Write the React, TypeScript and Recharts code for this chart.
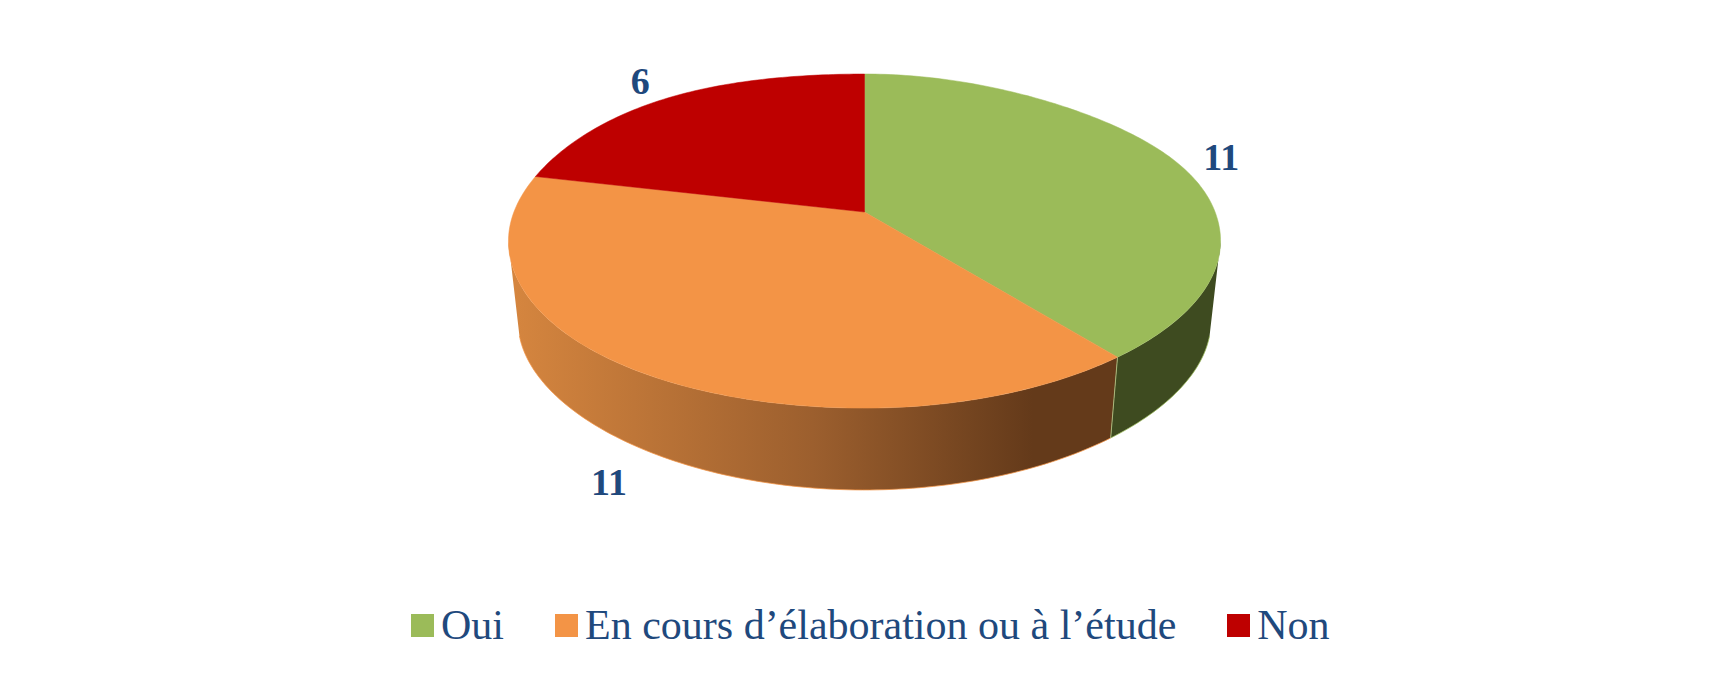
import { PieChart, Pie, Cell, Legend } from "recharts"

const categories = ["Oui", "En cours d’élaboration ou à l’étude", "Non"]
const counts = [11, 11, 6]
const topColors = ["#9BBB59", "#F39446", "#BE0000"]
const wallFills = ["#3E4B20", "url(#orangeWall)", "#6B0000"]

// label placement, one entry per slice
const labelReach = [1.14, 1.2, 1.165]
const labelShift = [1, -2.5, 3]

const SERIF = "'Liberation Serif', serif"
const INK = "#1F497D"
const WIDTH = 1731
const HEIGHT = 678
const CX = 864.5
const VY = 212
const RX = 350.6

// flattened disc with perspective: far edge is squeezed, near edge stretched
const TILT = 0.174
const RY_RATIO = 162 / RX
const rad = (a: number) => (a * Math.PI) / 180

function topPoint(a: number, r: number = RX, scale = 1) {
  const s = Math.sin(rad(a))
  const d = 1 + TILT * s
  const twice = Math.sin(rad(2 * a))
  // the original outline leans slightly to the left, away from a true ellipse
  const lean = twice * Math.abs(twice) * (s > 0 ? 4 : 1.5)
  return {
    x: CX + (scale * r * Math.cos(rad(a))) / d,
    y: VY - (scale * r * RY_RATIO * s) / d + lean,
  }
}

// lower rim of the disc, a bit narrower and further down
function bottomPoint(a: number, r: number = RX, scale = 1) {
  const s = Math.sin(rad(a))
  const d = 1 + TILT * s
  return {
    x: CX + (scale * r * 0.973 * Math.cos(rad(a))) / d,
    y: 294.5 - (scale * r * 0.4293 * s) / (1 + 0.23 * s),
  }
}

function sample(from: number, to: number, fn: (a: number) => { x: number; y: number }) {
  const n = Math.max(1, Math.ceil(Math.abs(to - from)))
  const pts: string[] = []
  for (let i = 0; i <= n; i++) {
    const p = fn(from + ((to - from) * i) / n)
    pts.push(`${p.x.toFixed(2)} ${p.y.toFixed(2)}`)
  }
  return pts
}

// eslint-disable-next-line @typescript-eslint/no-explicit-any
function DiscSlice(props: any) {
  const { startAngle, endAngle, outerRadius, index, fill } = props
  const a0 = Math.min(startAngle, endAngle)
  const a1 = Math.max(startAngle, endAngle)
  // only the front of the side wall shows, top and bottom silhouettes end at different angles
  const lo = Math.max(a0, -170)
  const hi = Math.min(a1, -10)
  const lowLo = Math.max(a0, -165)
  const lowHi = Math.min(a1, -15)
  const top = (a: number) => topPoint(a, outerRadius)
  const low = (a: number) => bottomPoint(a, outerRadius)
  const face = `M ${CX} ${VY} L ${sample(startAngle, endAngle, top).join(" L ")} Z`
  const hasWall = hi > lo
  const wall = hasWall ? `M ${sample(lo, hi, top).join(" L ")} L ${sample(lowHi, lowLo, low).join(" L ")} Z` : ""
  const rim = hasWall ? `M ${sample(lowLo, lowHi, low).join(" L ")}` : ""
  const seamTop = top(hi)
  const seamLow = low(lowHi)

  return (
    <g>
      {hasWall && <path d={wall} fill={wallFills[index]} />}
      {hasWall && <path d={rim} fill="none" stroke={fill} strokeWidth={1} strokeOpacity={0.75} />}
      {hasWall && hi < -10 && (
        <line x1={seamTop.x} y1={seamTop.y} x2={seamLow.x} y2={seamLow.y} stroke="#A9B77A" strokeWidth={1} />
      )}
      <path d={face} fill={fill} stroke={fill} strokeWidth={0.5} />
    </g>
  )
}

// eslint-disable-next-line @typescript-eslint/no-explicit-any
function renderValue(props: any) {
  const { midAngle, outerRadius, value, index } = props
  const front = Math.sin(rad(midAngle)) < -0.5
  const p = front
    ? bottomPoint(midAngle, outerRadius, labelReach[index])
    : topPoint(midAngle, outerRadius, labelReach[index])
  return (
    <text x={p.x} y={p.y + labelShift[index]} textAnchor="middle" dominantBaseline="central"
      fontFamily={SERIF} fontSize={38} fontWeight={700} fill={INK}>
      {value}
    </text>
  )
}

// eslint-disable-next-line @typescript-eslint/no-explicit-any
function renderLegend({ payload }: any) {
  return (
    <div style={{ display: "flex", alignItems: "center", marginLeft: 411, fontFamily: SERIF, fontSize: 42, color: INK, lineHeight: "46px" }}>
      {(payload ?? []).map((item: { value: string; color: string }) => (
        <div key={item.value} style={{ display: "flex", alignItems: "center", marginRight: 51 }}>
          <div style={{ width: 23, height: 23, background: item.color, marginRight: 7 }} />
          <span>{item.value}</span>
        </div>
      ))}
    </div>
  )
}

const rows = categories.map((name, i) => ({ name, value: counts[i] }))

export default function App() {
  return (
    <div style={{ position: "absolute", left: 0, top: 0, width: WIDTH, height: HEIGHT, background: "#fff" }}>
      <PieChart width={WIDTH} height={HEIGHT} margin={{ top: 0, right: 0, bottom: 0, left: 0 }}>
        <defs>
          <linearGradient id="orangeWall" x1="0" y1="0" x2="1" y2="0">
            <stop offset="0%" stopColor="#D6863F" />
            <stop offset="50%" stopColor="#9C5F2E" />
            <stop offset="86%" stopColor="#643A1A" />
            <stop offset="100%" stopColor="#643A1A" />
          </linearGradient>
        </defs>
        <Pie
          data={rows}
          dataKey="value"
          nameKey="name"
          cx={CX}
          cy={VY}
          outerRadius={RX}
          startAngle={90}
          endAngle={-270}
          stroke="none"
          shape={DiscSlice}
          label={renderValue}
          labelLine={false}
          isAnimationActive={false}
        >
          {rows.map((r, i) => <Cell key={r.name} fill={topColors[i]} />)}
        </Pie>
        <Legend content={renderLegend} itemSorter={null} wrapperStyle={{ left: 0, top: 602, width: WIDTH }} />
      </PieChart>
    </div>
  )
}
